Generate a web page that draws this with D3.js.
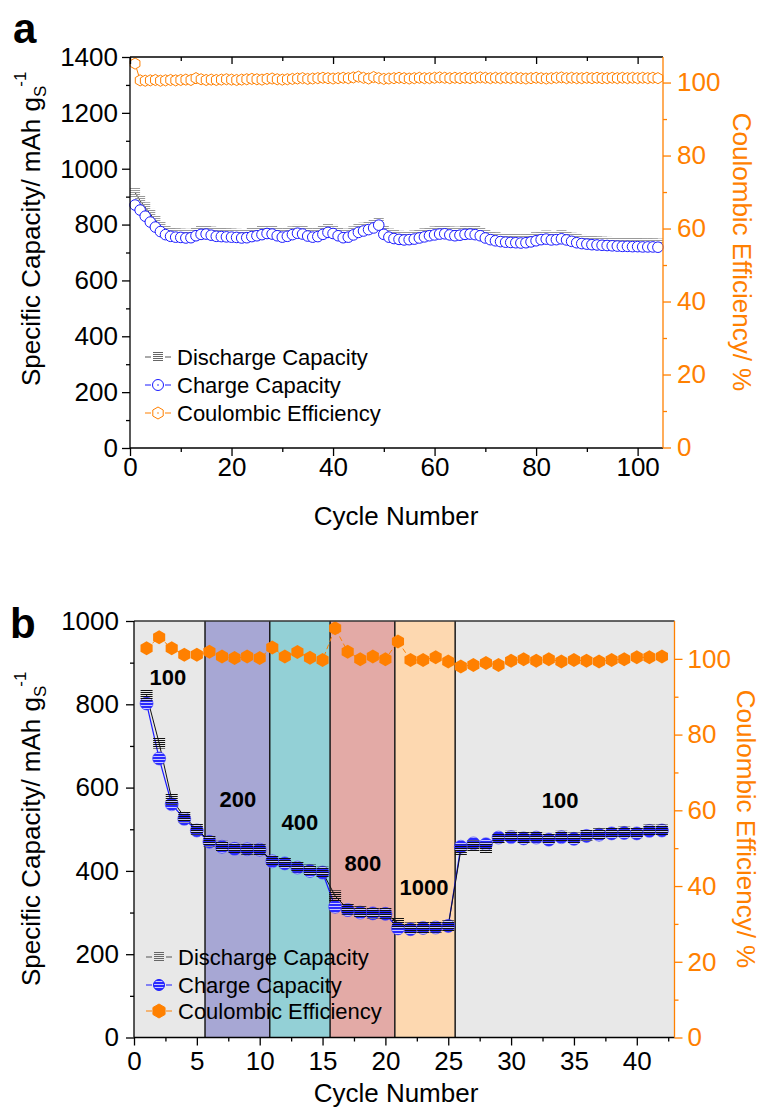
<!DOCTYPE html>
<html><head><meta charset="utf-8">
<script src="https://cdn.jsdelivr.net/npm/d3@7"></script>
<style>body{margin:0;background:#fff} svg{display:block}</style>
</head><body><svg id="c" width="763" height="1109"></svg>
<script>
// ---------------- DATA ----------------
// Panel a: long cycling
const chargeA = [870,852,830,809,791,775,764,758,755,754,
 752,753,760,765,766,762,758,757,756,755,
 754,752,753,757,760,764,768,766,760,755,
 758,764,769,766,759,755,757,765,772,768,
 760,753,755,763,772,777,782,788,798,765,
 755,750,747,745,746,748,752,756,760,763,
 766,767,763,760,762,765,766,764,760,752,
 746,742,739,737,736,735,734,735,738,742,
 746,748,745,746,749,745,740,735,732,730,
 728,727,726,725,724,723,722,722,721,721,
 720,720,720,719];
const dischargeA = [915,885,862,838,815,795,780,772,769,768,
 766,767,772,777,778,775,771,770,769,768,
 767,765,766,770,773,777,780,778,773,768,
 771,776,781,778,772,768,770,777,784,781,
 773,766,768,776,784,789,794,800,808,778,
 768,763,760,758,759,761,765,769,773,776,
 779,780,776,773,775,778,779,777,773,765,
 759,755,752,750,749,748,747,748,751,755,
 759,761,758,759,762,758,753,748,745,743,
 741,740,739,738,737,736,735,735,734,734,
 733,733,733,732];
const ceA = [105.2,100.6,100.5,100.6,100.7,100.5,100.6,100.7,100.6,100.7,
 100.8,100.7,101.2,100.9,100.7,100.8,100.7,100.8,100.9,100.8,
 100.7,100.8,100.9,101.0,100.9,100.8,101.0,101.1,100.9,100.8,
 100.9,101.0,101.1,101.2,101.0,101.1,101.2,101.3,101.2,101.1,
 101.2,101.3,101.2,101.4,101.6,101.3,101.1,101.5,101.2,101.0,
 101.1,101.2,101.3,101.2,101.1,101.2,101.3,101.2,101.2,101.3,
 101.4,101.3,101.2,101.3,101.2,101.3,101.2,101.3,101.4,101.3,
 101.2,101.3,101.2,101.3,101.2,101.3,101.2,101.1,101.2,101.3,
 101.2,101.1,101.2,101.3,101.4,101.2,101.3,101.2,101.2,101.3,
 101.2,101.3,101.2,101.2,101.3,101.2,101.3,101.2,101.3,101.2,
 101.3,101.2,101.3,101.2];

// Panel b: rate capability
const chargeB = [802,670,560,525,497,470,458,453,452,451,
 423,418,408,400,396,314,306,300,298,297,
 262,260,263,264,268,458,466,464,480,481,
 478,480,475,481,477,484,487,490,491,490,496,497];
const dischargeB = [822,707,572,530,500,472,459,454,452,451,
 425,420,410,402,397,340,308,302,299,298,
 275,263,264,265,268,450,460,455,478,483,
 480,482,478,483,479,486,489,492,493,492,498,498];
const ceB = [102.8,105.7,102.8,101.1,101.1,101.9,100.6,100.2,100.6,100.2,
 103.0,100.6,101.8,100.3,99.7,108.1,101.9,99.9,100.6,99.9,
 104.6,99.7,99.7,100.4,99.3,98.0,98.4,98.9,98.4,99.5,
 99.9,99.5,99.9,99.3,99.7,99.5,99.3,99.7,99.9,100.4,100.4,100.6];

const bandEdges = [0, 5.65, 10.8, 15.6, 20.75, 25.55, 43];
const bandRates = ["100","200","400","800","1000","100"];
const bandLabelAt = [[2.7,846],[8.27,553],[13.2,498],[18.2,400],[23.07,342],[33.9,551]];

const xTicksA = [0,20,40,60,80,100], xMinorA = [10,30,50,70,90];
const yTicksA = [0,200,400,600,800,1000,1200,1400], yMinorA = [100,300,500,700,900,1100,1300];
const y2TicksA = [0,20,40,60,80,100], y2MinorA = [10,30,50,70,90];
const xTicksB = [0,5,10,15,20,25,30,35,40], xMinorB = [2.5,7.5,12.5,17.5,22.5,27.5,32.5,37.5,42.5];
const yTicksB = [0,200,400,600,800,1000], yMinorB = [100,300,500,700,900];
const y2TicksB = [0,20,40,60,80,100], y2MinorB = [10,30,50,70,90];

const legendLabels = ["Discharge Capacity","Charge Capacity","Coulombic Efficiency"];

// ---------------- STYLE ----------------
const FONT = '"Liberation Sans", Arial, Helvetica, sans-serif';
const ORANGE = "#ff8000", BLUE = "#1a1aff";
const bandColors = ["#e8e8e8","#a7a7d4","#93d0d6","#e3aaa6","#fdd8b0","#e8e8e8"];

const svg = d3.select("#c").attr("font-family", FONT);
const defs = svg.append("defs");
function stripes(id, bg, fg, h, lw){
  const p = defs.append("pattern").attr("id", id).attr("patternUnits","userSpaceOnUse")
    .attr("width", 4).attr("height", h);
  if (bg) p.append("rect").attr("width",4).attr("height",h).attr("fill",bg);
  p.append("rect").attr("width",4).attr("height",lw).attr("fill",fg);
}
stripes("stA", null, "#999", 2, 1);
stripes("stB", null, "#111", 2, 1);
stripes("stC", "#2a2aff", "#c8c8ff", 3, 1);
stripes("stL", null, "#666", 2, 1);

function hexPath(r){
  const pts = d3.range(6).map(k => { const a = (-90 + 60*k) * Math.PI/180; return [r*Math.cos(a), r*Math.sin(a)]; });
  return "M" + pts.map(p => p[0].toFixed(2)+","+p[1].toFixed(2)).join("L") + "Z";
}

function drawAxis(g, orient, scale, major, minor, o){
  const mk = {left:d3.axisLeft, right:d3.axisRight, bottom:d3.axisBottom, top:d3.axisTop}[orient];
  if (minor) {
    const gm = g.append("g").call(mk(scale).tickValues(minor).tickSize(o.minor).tickSizeOuter(0).tickFormat(""));
    gm.select(".domain").remove();
  }
  const gM = g.append("g").call(mk(scale).tickValues(major).tickSize(o.major).tickSizeOuter(0)
      .tickPadding(o.pad || 3).tickFormat(o.noLabels ? "" : d3.format("d")));
  gM.select(".domain").remove();
  g.selectAll("line").attr("stroke", o.color).attr("stroke-width", 1.3);
  g.selectAll("text").attr("fill", o.color).attr("font-size", o.fs || 26).attr("font-family", FONT);
}

// ================= PANEL A =================
const xA = d3.scaleLinear([0,105],[130,663]);
const yA = d3.scaleLinear([0,1400],[448,57]);
const yA2 = d3.scaleLinear([0,107],[447.5,57]);
const gA = svg.append("g");

const cyc = (d,i) => i + 1;
gA.append("path").attr("d", d3.line().x((d,i)=>xA(cyc(d,i))).y(d=>yA(d))(dischargeA))
  .attr("fill","none").attr("stroke","#333").attr("stroke-width",1);
gA.selectAll(".dA").data(dischargeA).join("rect")
  .attr("x",(d,i)=>xA(cyc(d,i))-5).attr("y",d=>yA(d)-5).attr("width",10).attr("height",10)
  .attr("fill","url(#stA)");
gA.append("path").attr("d", d3.line().x((d,i)=>xA(cyc(d,i))).y(d=>yA(d))(chargeA))
  .attr("fill","none").attr("stroke",BLUE).attr("stroke-width",1);
gA.selectAll(".cA").data(chargeA).join("circle")
  .attr("cx",(d,i)=>xA(cyc(d,i))).attr("cy",d=>yA(d)).attr("r",5.3)
  .attr("fill","#fff").attr("stroke",BLUE).attr("stroke-width",1);
gA.append("path").attr("d", d3.line().x((d,i)=>xA(cyc(d,i))).y(d=>yA2(d))(ceA))
  .attr("fill","none").attr("stroke",ORANGE).attr("stroke-width",1);
gA.selectAll(".eA").data(ceA).join("path")
  .attr("transform",(d,i)=>`translate(${xA(cyc(d,i))},${yA2(d)})`).attr("d",hexPath(5.6))
  .attr("fill","#fff").attr("stroke",ORANGE).attr("stroke-width",1);

gA.append("line").attr("x1",130).attr("x2",663).attr("y1",57).attr("y2",57).attr("stroke","#000").attr("stroke-width",1.3);
drawAxis(gA.append("g").attr("transform","translate(0,57)"), "bottom", xA, xTicksA, xMinorA, {major:7,minor:4,color:"#000",noLabels:true});
drawAxis(gA.append("g").attr("transform","translate(0,448)"), "bottom", xA, xTicksA, xMinorA, {major:8,minor:4,pad:2,color:"#000"});
drawAxis(gA.append("g").attr("transform","translate(130,0)"), "left", yA, yTicksA, yMinorA, {major:8,minor:4,pad:4,color:"#000"});
drawAxis(gA.append("g").attr("transform","translate(663,0)"), "right", yA2, y2TicksA, y2MinorA, {major:8,minor:4,pad:6,color:ORANGE});
gA.append("line").attr("x1",130).attr("x2",663).attr("y1",448).attr("y2",448).attr("stroke","#000").attr("stroke-width",1.3);
gA.append("line").attr("x1",130).attr("x2",130).attr("y1",57).attr("y2",448).attr("stroke","#000").attr("stroke-width",1.3);
gA.append("line").attr("x1",663).attr("x2",663).attr("y1",57).attr("y2",448).attr("stroke",ORANGE).attr("stroke-width",1.3);

gA.append("text").attr("x",13).attr("y",43).attr("font-size",42).attr("font-weight","bold").text("a");
gA.append("text").attr("x",396).attr("y",525).attr("text-anchor","middle").attr("font-size",26).text("Cycle Number");
function yTitle(g, x, y){
  const t = g.append("text").attr("transform",`translate(${x},${y}) rotate(-90)`).attr("font-size",26);
  t.append("tspan").text("Specific Capacity/ mAh g");
  t.append("tspan").attr("font-size",17).attr("dy",6).text("S");
  t.append("tspan").attr("font-size",17).attr("dy",-20).attr("dx",-1).text("-1");
}
yTitle(gA, 40, 386);
gA.append("text").attr("transform","translate(733,252) rotate(90)").attr("text-anchor","middle")
  .attr("font-size",26).attr("fill",ORANGE).text("Coulombic Efficiency/ %");

function legend(g, x0, baselines, styleB){
  baselines.forEach((by,i) => {
    const cy = by - 8;
    const col = i===0 ? "#555" : (i===1 ? BLUE : ORANGE);
    g.append("line").attr("x1",x0-13).attr("x2",x0-7).attr("y1",cy).attr("y2",cy).attr("stroke",col).attr("stroke-width",1);
    g.append("line").attr("x1",x0+7).attr("x2",x0+13).attr("y1",cy).attr("y2",cy).attr("stroke",col).attr("stroke-width",1);
    if (i===0) g.append("rect").attr("x",x0-5).attr("y",cy-5).attr("width",10).attr("height",10).attr("fill", "url(#stL)");
    if (i===1) {
      g.append("circle").attr("cx",x0).attr("cy",cy).attr("r",5.5)
        .attr("fill", styleB ? "url(#stC)" : "#fff").attr("stroke",BLUE).attr("stroke-width",1);
      if (!styleB) g.append("circle").attr("cx",x0).attr("cy",cy).attr("r",0.8).attr("fill",BLUE);
    }
    if (i===2) {
      g.append("path").attr("transform",`translate(${x0},${cy})`).attr("d",hexPath(styleB?7:6))
        .attr("fill", styleB ? ORANGE : "#fff").attr("stroke",ORANGE).attr("stroke-width",1);
      if (!styleB) g.append("circle").attr("cx",x0).attr("cy",cy).attr("r",0.8).attr("fill",ORANGE);
    }
    g.append("text").attr("x",x0+19).attr("y",by).attr("font-size",22).attr("fill","#000").text(legendLabels[i]);
  });
}
legend(gA, 158, [365,393,421], false);

// ================= PANEL B =================
const xB = d3.scaleLinear([0,43],[134,674.5]);
const yB = d3.scaleLinear([0,1000],[1037.5,621]);
const yB2 = d3.scaleLinear([0,110],[1037.5,621]);
const gB = svg.append("g");

gB.selectAll(".band").data(bandColors).join("rect")
  .attr("x",(d,i)=>xB(bandEdges[i])).attr("width",(d,i)=>xB(bandEdges[i+1])-xB(bandEdges[i]))
  .attr("y",yB(1000)).attr("height",yB(0)-yB(1000)).attr("fill",d=>d);
gB.selectAll(".bedge").data(bandEdges.slice(1,-1)).join("line")
  .attr("x1",d=>xB(d)).attr("x2",d=>xB(d)).attr("y1",yB(1000)).attr("y2",yB(0))
  .attr("stroke","#1a1a1a").attr("stroke-width",1.5);
gB.selectAll(".blab").data(bandRates).join("text")
  .attr("x",(d,i)=>xB(bandLabelAt[i][0])).attr("y",(d,i)=>yB(bandLabelAt[i][1]))
  .attr("text-anchor","middle").attr("font-size",22).attr("font-weight","bold").text(d=>d);

gB.append("path").attr("d", d3.line().x((d,i)=>xB(cyc(d,i))).y(d=>yB(d))(chargeB))
  .attr("fill","none").attr("stroke",BLUE).attr("stroke-width",1.2);
gB.append("path").attr("d", d3.line().x((d,i)=>xB(cyc(d,i))).y(d=>yB(d))(dischargeB))
  .attr("fill","none").attr("stroke","#111").attr("stroke-width",1);
gB.selectAll(".cB").data(chargeB).join("circle")
  .attr("cx",(d,i)=>xB(cyc(d,i))).attr("cy",d=>yB(d)).attr("r",6.5)
  .attr("fill","url(#stC)").attr("stroke","#3a3aff").attr("stroke-width",0.6);
gB.selectAll(".dB").data(dischargeB).join("rect")
  .attr("x",(d,i)=>xB(cyc(d,i))-6).attr("y",d=>yB(d)-5.5).attr("width",12).attr("height",11)
  .attr("fill","url(#stB)");
gB.append("path").attr("d", d3.line().x((d,i)=>xB(cyc(d,i))).y(d=>yB2(d))(ceB))
  .attr("fill","none").attr("stroke",ORANGE).attr("stroke-width",1).attr("stroke-dasharray","5,3");
gB.selectAll(".eB").data(ceB).join("path")
  .attr("transform",(d,i)=>`translate(${xB(cyc(d,i))},${yB2(d)})`).attr("d",hexPath(7))
  .attr("fill",ORANGE);

gB.append("line").attr("x1",134).attr("x2",674.5).attr("y1",621).attr("y2",621).attr("stroke","#333").attr("stroke-width",1.5);
drawAxis(gB.append("g").attr("transform","translate(0,1037.5)"), "bottom", xB, xTicksB, xMinorB, {major:8,minor:4,pad:6,color:"#000"});
drawAxis(gB.append("g").attr("transform","translate(134,0)"), "left", yB, yTicksB, yMinorB, {major:8,minor:4,pad:7,color:"#000"});
drawAxis(gB.append("g").attr("transform","translate(674.5,0)"), "right", yB2, y2TicksB, y2MinorB, {major:8,minor:4,pad:5,color:ORANGE});
gB.append("line").attr("x1",134).attr("x2",674.5).attr("y1",1037.5).attr("y2",1037.5).attr("stroke","#000").attr("stroke-width",1.3);
gB.append("line").attr("x1",134).attr("x2",134).attr("y1",621).attr("y2",1037.5).attr("stroke","#000").attr("stroke-width",1.3);
gB.append("line").attr("x1",674.5).attr("x2",674.5).attr("y1",621).attr("y2",1037.5).attr("stroke",ORANGE).attr("stroke-width",1.3);

gB.append("text").attr("x",10).attr("y",638).attr("font-size",42).attr("font-weight","bold").text("b");
gB.append("text").attr("x",396).attr("y",1102).attr("text-anchor","middle").attr("font-size",26).text("Cycle Number");
yTitle(gB, 40, 986);
gB.append("text").attr("transform","translate(737,829) rotate(90)").attr("text-anchor","middle")
  .attr("font-size",26).attr("fill",ORANGE).text("Coulombic Efficiency/ %");
legend(gB, 159, [965,993,1019], true);
</script>
</body></html>
